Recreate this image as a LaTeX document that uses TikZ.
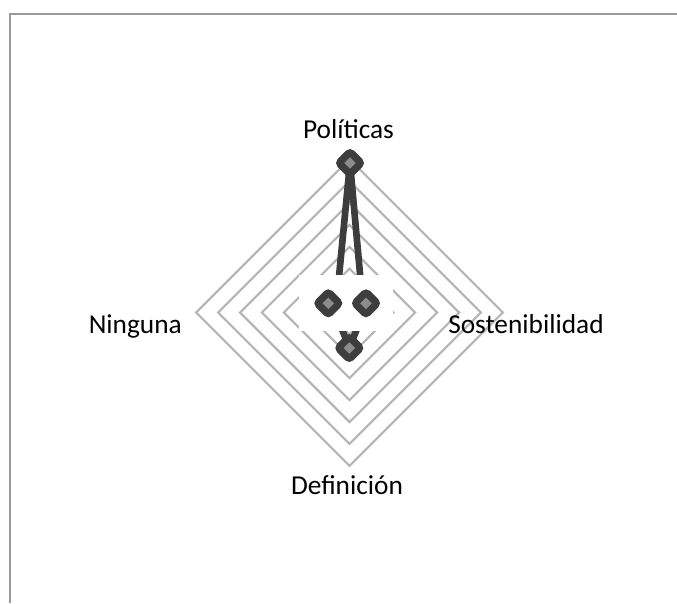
\documentclass[tikz,border=0pt]{standalone}
\usepackage{fontspec}
\setmainfont{Carlito}
\usetikzlibrary{shapes.geometric}

\definecolor{serie}{HTML}{3D3D3D}
\definecolor{rejilla}{HTML}{B5B5B5}
\definecolor{marco}{HTML}{9A9A9A}
\definecolor{relleno}{HTML}{8C8C8C}

\tikzset{
  anillo/.style={draw=rejilla, line width=1.6pt, line join=miter},
  marca/.style={diamond, draw=serie, fill=relleno, line width=5.5pt,
    minimum size=19pt, inner sep=0pt, rounded corners=2pt},
  etiqueta/.style={inner sep=0pt, font=\fontsize{20.5}{24}\selectfont}
}

\begin{document}
\begin{tikzpicture}[x=0.75pt, y=-0.75pt]
\useasboundingbox (0,0) rectangle (677,603);

% marco
\path[draw, marco, line width=1.5pt] (9.5,603) -- (9.5,14) -- (677,14);

% anillos
\path[anillo] (349.5,290.6) -- (371.4,312.5) -- (349.5,334.4) -- (327.6,312.5) -- cycle;
\path[anillo] (349.5,268.7) -- (393.3,312.5) -- (349.5,356.3) -- (305.7,312.5) -- cycle;
\path[anillo] (349.5,246.8) -- (415.2,312.5) -- (349.5,378.2) -- (283.8,312.5) -- cycle;
\path[anillo] (349.5,224.9) -- (437.1,312.5) -- (349.5,400.1) -- (261.9,312.5) -- cycle;
\path[anillo] (349.5,203.0) -- (459.0,312.5) -- (349.5,422.0) -- (240.0,312.5) -- cycle;
\path[anillo] (349.5,181.1) -- (480.9,312.5) -- (349.5,443.9) -- (218.1,312.5) -- cycle;
\path[anillo] (349.5,159.2) -- (502.8,312.5) -- (349.5,465.8) -- (196.2,312.5) -- cycle;

% serie
\coordinate (pol) at (350,163);
\coordinate (sos) at (363.5,312.5);
\coordinate (def) at (349.3,348);
\coordinate (nin) at (335.5,312.5);
\path[draw, serie, line width=5pt, line join=round] (pol) -- (sos) -- (def) -- (nin) -- cycle;

\node[fill=white, inner sep=0pt, minimum width=70.5pt, minimum height=42pt] (caja) at (346.3,303) {};

\node[marca] (m1) at (pol) {};
\node[marca] (m2) at (def) {};
\node[marca] (m3) at (328.3,303.3) {};
\node[marca] (m4) at (366,303.3) {};

% etiquetas
\node[etiqueta, anchor=base] (politicas) at (348.5,138) {Políticas};
\node[etiqueta, anchor=base west] (sostenibilidad) at (448,333) {Sostenibilidad};
\node[etiqueta, anchor=base] (definicion) at (347,494) {Definición};
\node[etiqueta, anchor=base east] (ninguna) at (182,333) {Ninguna};
\end{tikzpicture}
\end{document}
